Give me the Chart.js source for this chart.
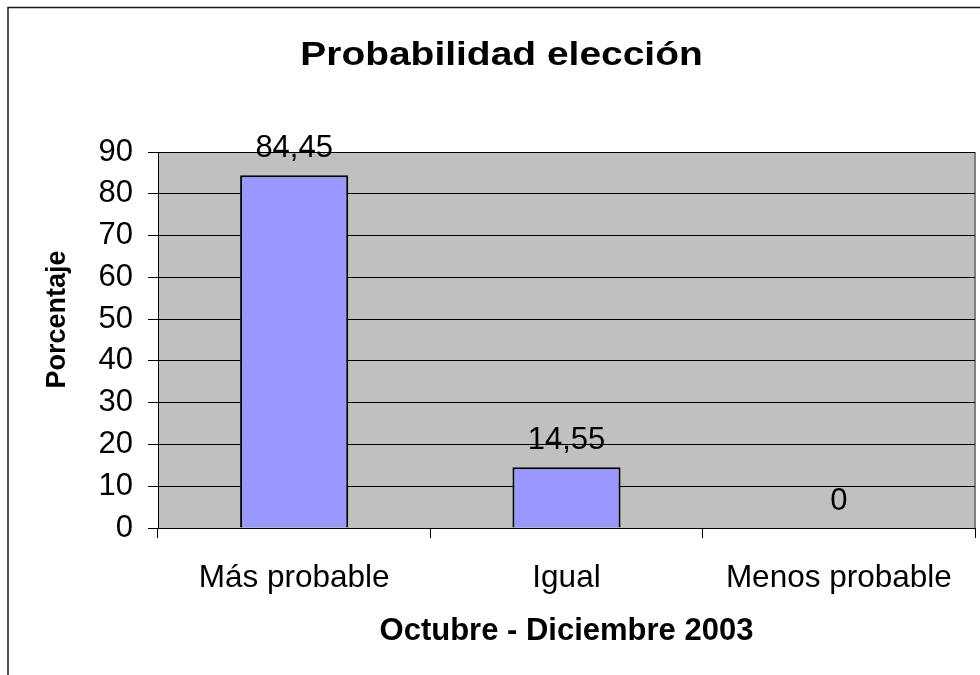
<!DOCTYPE html>
<html><head><meta charset="utf-8">
<script src="https://cdn.jsdelivr.net/npm/chart.js@4/dist/chart.umd.min.js"></script>
<style>html,body{margin:0;padding:0;background:#fff;overflow:hidden;}</style>
</head><body>
<canvas id="c" width="980" height="675"></canvas>
<script>
const categories = ['Más probable', 'Igual', 'Menos probable'];
const values = [84.45, 14.55, 0];
const yMin = 0, yMax = 90, yStep = 10;
const chartTitle = 'Probabilidad elección';
const xTitle = 'Octubre - Diciembre 2003';
const yTitle = 'Porcentaje';

const FONT = "'Liberation Sans', Arial, sans-serif";

const decor = {
  id: 'decor',
  beforeDraw(chart) {
    const {ctx, chartArea: a} = chart;
    ctx.save();
    ctx.fillStyle = '#fff';
    ctx.fillRect(0, 0, chart.width, chart.height);
    ctx.strokeStyle = '#1a1a1a';
    ctx.lineWidth = 1.5;
    ctx.strokeRect(8, 7.5, 1200, 1200);
    ctx.fillStyle = '#C0C0C0';
    ctx.fillRect(a.left, a.top, a.right - a.left, a.bottom - a.top);
    ctx.strokeStyle = '#808080';
    ctx.lineWidth = 2;
    ctx.beginPath();
    ctx.moveTo(a.right, a.top);
    ctx.lineTo(a.right, a.bottom);
    ctx.stroke();
    ctx.restore();
  },
  afterDraw(chart) {
    const {ctx} = chart;
    ctx.save();
    ctx.fillStyle = '#000';
    ctx.font = 'bold 33px ' + FONT;
    ctx.textAlign = 'center';
    ctx.textBaseline = 'alphabetic';
    ctx.translate(501.5, 65);
    ctx.scale(1.18, 1);
    ctx.fillText(chartTitle, 0, 0);
    ctx.restore();
    ctx.save();
    ctx.fillStyle = '#000';
    ctx.font = 'bold 27px ' + FONT;
    ctx.textAlign = 'center';
    ctx.textBaseline = 'alphabetic';
    ctx.translate(65, 319.5);
    ctx.rotate(-Math.PI / 2);
    ctx.fillText(yTitle, 0, 0);
    ctx.restore();
  },
  afterDatasetsDraw(chart) {
    const {ctx} = chart;
    const meta = chart.getDatasetMeta(0);
    ctx.save();
    ctx.fillStyle = '#000';
    ctx.font = '31px ' + FONT;
    ctx.textAlign = 'center';
    ctx.textBaseline = 'alphabetic';
    meta.data.forEach((bar, i) => {
      const txt = String(values[i]).replace('.', ',');
      ctx.fillText(txt, bar.x, bar.y - 18);
    });
    ctx.restore();
  }
};

new Chart(document.getElementById('c'), {
  type: 'bar',
  data: {
    labels: categories,
    datasets: [{
      data: values,
      backgroundColor: '#9999FF',
      borderColor: '#000',
      borderWidth: 2,
      categoryPercentage: 1,
      barPercentage: 0.397
    }]
  },
  options: {
    responsive: false,
    devicePixelRatio: 1,
    animation: false,
    layout: {padding: {left: 8, right: 5, top: 152, bottom: 0}},
    plugins: {legend: {display: false}, tooltip: {enabled: false}, title: {display: false}},
    scales: {
      x: {
        grid: {display: true, drawOnChartArea: false, drawTicks: true, tickLength: 10, color: '#000', offset: true},
        border: {display: true, color: '#000', width: 1},
        ticks: {color: '#000', font: {family: FONT, size: 31.5}, padding: 21, maxRotation: 0, autoSkip: false},
        title: {display: true, text: xTitle, color: '#000', font: {family: FONT, size: 31, weight: 'bold'}, padding: {top: 0, bottom: 25}},
        afterFit: (s) => { s.height = 147; }
      },
      y: {
        min: yMin, max: yMax,
        ticks: {stepSize: yStep, color: '#000', font: {family: FONT, size: 31}, padding: 15},
        grid: {color: '#000', lineWidth: 1, tickLength: 10, drawTicks: true},
        border: {display: true, color: '#000', width: 1},
        afterFit: (s) => { s.width = 150; }
      }
    }
  },
  plugins: [decor]
});
</script>
</body></html>
